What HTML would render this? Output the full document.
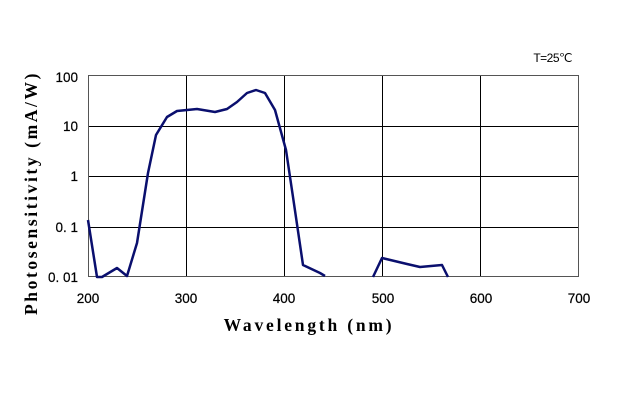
<!DOCTYPE html>
<html><head><style>
body{margin:0;background:#fff;width:637px;height:409px;overflow:hidden}
svg{display:block}
</style></head><body>
<svg width="637" height="409" viewBox="0 0 637 409" xmlns="http://www.w3.org/2000/svg">
<g stroke="#000" stroke-width="1" fill="none">
<line x1="88" y1="126.5" x2="579" y2="126.5"/>
<line x1="88" y1="176.5" x2="579" y2="176.5"/>
<line x1="88" y1="227.5" x2="579" y2="227.5"/>
<line x1="186.5" y1="75" x2="186.5" y2="277"/>
<line x1="284.5" y1="75" x2="284.5" y2="277"/>
<line x1="382.5" y1="75" x2="382.5" y2="277"/>
<line x1="480.5" y1="75" x2="480.5" y2="277"/>
</g>
<rect x="88.5" y="75.5" width="490" height="201" fill="none" stroke="#555" stroke-width="1"/>
<polyline fill="none" stroke="#0a0f6e" stroke-width="2.5" stroke-linejoin="round" points="88,220 97,277 102,277 117,268 127,276 137,243 148,173 156,135 167,117 177,111 197,109 215,112 227,109 237,102 247,93 256,90 265,93 275,110 286,150 293,197 303,265 320,273 325,276"/>
<polyline fill="none" stroke="#0a0f6e" stroke-width="2.5" stroke-linejoin="round" points="373,277 382,258 407,264 420,267 442,265 448,277"/>
<g font-family="Liberation Sans, sans-serif" font-size="13.5" fill="#000" stroke="#000" stroke-width="0.2">
<text x="78" y="82" text-anchor="end">100</text>
<text x="78" y="131" text-anchor="end">10</text>
<text x="78" y="181" text-anchor="end">1</text>
<text x="78" y="232" text-anchor="end">0. 1</text>
<text x="78" y="282" text-anchor="end">0. 01</text>
<text x="88" y="303" text-anchor="middle">200</text>
<text x="186" y="303" text-anchor="middle">300</text>
<text x="284" y="303" text-anchor="middle">400</text>
<text x="383" y="303" text-anchor="middle">500</text>
<text x="481" y="303" text-anchor="middle">600</text>
<text x="579" y="303" text-anchor="middle">700</text>
<text x="572" y="62" text-anchor="end" font-size="12" letter-spacing="-0.5" stroke-width="0">T=25℃</text>
</g>
<text x="309" y="331" text-anchor="middle" font-family="Liberation Serif, serif" font-weight="bold" font-size="17.5" letter-spacing="2.8">Wavelength (nm)</text>
<text transform="translate(37,193) rotate(-90)" text-anchor="middle" font-family="Liberation Serif, serif" font-weight="bold" font-size="17.5" letter-spacing="2.6">Photosensitivity (mA/W)</text>
</svg>
</body></html>
